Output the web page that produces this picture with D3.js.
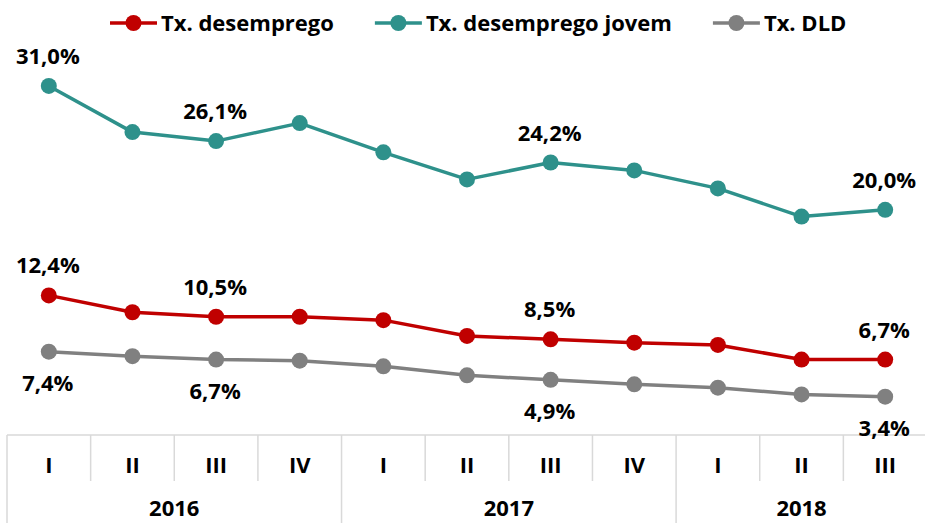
<!DOCTYPE html>
<html lang="pt">
<head>
<meta charset="utf-8">
<style>
  html, body { margin:0; padding:0; overflow:hidden; background:#fff; }
  svg { display:block; }
  text { font-family: "Open Sans", "Noto Sans", sans-serif; font-weight: bold; fill:#000; }
  .grid { stroke:#d9d9d9; stroke-width:1.5px; }
</style>
</head>
<body>
<svg width="925" height="523"></svg>
<script src="https://cdn.jsdelivr.net/npm/d3@7"></script>
<script>
// dados
var quarters = ["I","II","III","IV","I","II","III","IV","I","II","III"];
var yearLabels = ["2016","2017","2018"];
var yearSpans = [4, 4, 3];

var txDesemprego = [12.4, 10.9, 10.5, 10.5, 10.2, 8.8, 8.5, 8.2, 8.0, 6.7, 6.7];
var txJovem      = [31.0, 26.9, 26.1, 27.7, 25.1, 22.7, 24.2, 23.5, 21.9, 19.4, 20.0];
var txDLD        = [7.4, 7.0, 6.7, 6.6, 6.1, 5.3, 4.9, 4.5, 4.2, 3.6, 3.4];

var seriesNames = ["Tx. desemprego", "Tx. desemprego jovem", "Tx. DLD"];
var seriesColors = ["#c00000", "#2e918b", "#808080"];
var labelIdx = [0, 2, 6, 10];

var svg = d3.select("svg"),
    axisY = 435;

var x = d3.scaleBand()
    .domain(d3.range(quarters.length))
    .range([7, 927])
    .padding(0);

var y = d3.scaleLinear()
    .domain([0, 35])
    .range([axisY, axisY - 35 * 11.26]);

function fmt(v) { return v.toFixed(1).replace(".", ",") + "%"; }

// eixo / tabela de categorias
svg.append("line").attr("class", "grid")
    .attr("x1", x.range()[0]).attr("x2", 925)
    .attr("y1", axisY).attr("y2", axisY);

var yearBounds = [0];
yearSpans.forEach(function (s, i) { yearBounds.push(yearBounds[i] + s); });

d3.range(quarters.length + 1).forEach(function (i) {
    var xx = i < quarters.length ? x(i) : x.range()[1];
    var isYear = yearBounds.indexOf(i) >= 0;
    svg.append("line").attr("class", "grid")
        .attr("x1", xx).attr("x2", xx)
        .attr("y1", axisY).attr("y2", isYear ? 523 : 481);
});

var xAxis = d3.axisBottom(x)
    .tickSize(0)
    .tickPadding(0)
    .tickFormat(function (i) { return quarters[i]; });

var gx = svg.append("g")
    .attr("transform", "translate(0," + axisY + ")")
    .call(xAxis);
gx.select(".domain").remove();
gx.selectAll("text")
    .attr("dy", null)
    .attr("y", 38)
    .style("font-size", "22px")
    .style("font-family", null)
    .attr("fill", "#000");

svg.selectAll(".year")
    .data(yearLabels)
    .enter()
    .append("text")
    .attr("class", "year")
    .attr("text-anchor", "middle")
    .attr("x", function (d, i) {
        var a = x(yearBounds[i]);
        var b = x(yearBounds[i + 1] - 1) + x.bandwidth();
        return (a + b) / 2;
    })
    .attr("y", 516)
    .style("font-size", "22px")
    .text(function (d) { return d; });

// linhas
var allSeries = [txDesemprego, txJovem, txDLD];
var line = d3.line()
    .x(function (d, i) { return x(i) + x.bandwidth() / 2; })
    .y(function (d) { return y(d); });

allSeries.forEach(function (data, s) {
    var g = svg.append("g");
    g.append("path")
        .datum(data)
        .attr("fill", "none")
        .attr("stroke", seriesColors[s])
        .attr("stroke-width", 3.5)
        .attr("stroke-linejoin", "round")
        .attr("d", line);
    g.selectAll("circle")
        .data(data)
        .enter()
        .append("circle")
        .attr("cx", function (d, i) { return x(i) + x.bandwidth() / 2; })
        .attr("cy", function (d) { return y(d); })
        .attr("r", 8)
        .attr("fill", seriesColors[s]);
    g.selectAll(".lbl")
        .data(labelIdx)
        .enter()
        .append("text")
        .attr("class", "lbl")
        .attr("text-anchor", "middle")
        .attr("x", function (i) { return x(i) + x.bandwidth() / 2 - 1; })
        .attr("y", function (i) { return s == 2 ? y(data[i]) + 39 : y(data[i]) - 22; })
        .style("font-size", "22px")
        .text(function (i) { return fmt(data[i]); });
});

// legenda
var lx = 110;
seriesNames.forEach(function (name, s) {
    var g = svg.append("g").attr("transform", "translate(" + lx + ",23)");
    g.append("line")
        .attr("x1", 0).attr("x2", 47)
        .attr("stroke", seriesColors[s])
        .attr("stroke-width", 3.5);
    g.append("circle")
        .attr("cx", 23.5).attr("r", 8)
        .attr("fill", seriesColors[s]);
    var t = g.append("text")
        .attr("x", 51)
        .attr("y", 8)
        .style("font-size", "22px")
        .text(name);
    lx += 51 + t.node().getComputedTextLength() + 41;
});
</script>
</body>
</html>
